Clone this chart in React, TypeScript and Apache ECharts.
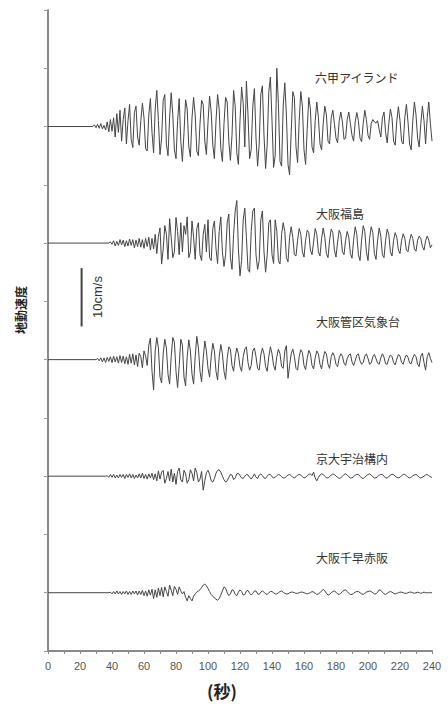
import React, { useEffect, useRef } from "react";
import * as echarts from "echarts";

// Station names (top to bottom)
const STATIONS = ["六甲アイランド", "大阪福島", "大阪管区気象台", "京大宇治構内", "大阪千早赤阪"];
// Baseline offset of each trace on the y axis (units: cm/s)
const BASELINES = [90, 70, 50, 30, 10];
// First sample time (s) of each trace; samples every 1 s
const STARTS = [28, 38, 30, 36, 38];

// Ground velocity samples (cm/s), one per second
const rokko = [
  0, 0.3, -0.2, 0.4, -0.3, 0.5, -0.4, 0.2, -0.6, 0.8,
  -0.9, 1.2, -0.8, 1.5, -1.8, 2.2, -1.0, 2.8, -2.5, 1.2,
  3.2, -3.0, 1.0, 3.8, -2.2, -3.6, 2.4, 3.5, -1.8, -3.2,
  1.0, 4.0, 1.5, -3.8, -4.2, 2.0, 4.8, -1.0, -4.5, 3.0,
  6.2, 1.0, -4.8, -2.0, 4.5, 5.5, -3.0, -5.0, 1.5, 5.8,
  2.0, -4.0, -5.5, 1.0, 4.8, -2.5, -6.0, -1.0, 4.6, 3.0,
  -3.5, -5.2, 1.5, 5.0, 2.0, -4.2, -5.0, 0.5, 4.5, 3.8,
  -2.5, -4.8, 0.8, 5.2, 2.5, -3.2, -5.5, 1.0, 5.5, 3.0,
  -3.8, -6.0, 0.5, 5.0, 4.2, -2.5, -5.8, -1.5, 6.2, 3.5,
  -4.5, -6.5, 1.0, 6.8, 4.0, -3.5, 7.8, 2.0, -5.5, -4.0,
  3.5, 6.5, -2.0, -6.8, -3.0, 5.5, 7.0, -1.5, -7.2, -3.0,
  6.0, 8.5, 1.0, -7.0, -5.0, 10.0, 4.0, -6.0, -6.8, 3.5,
  7.5, 2.0, -6.5, -8.3, -1.0, 6.0, 5.0, -3.5, -6.2, 1.0,
  6.0, 3.5, -4.0, -6.5, -0.5, 5.0, 3.0, -3.5, -4.5, 1.0,
  4.2, 1.5, -3.0, -4.0, 0.5, 3.5, 2.0, -2.5, -3.0, 1.5,
  2.8, 0.5, -2.0, -2.8, 1.0, 2.5, 0.8, -2.2, -2.0, 1.2,
  2.5, 0.5, -1.5, -2.5, 0.8, 2.4, 1.0, -2.0, -2.6, 0.5,
  2.8, 1.2, -1.5, -2.2, 0.5, 1.2, 0.8, 0.6, 1.0, -0.5,
  -1.8, 1.5, 2.5, -1.0, -2.8, 0.5, 3.0, 1.5, -2.5, -3.2,
  1.0, 3.4, 1.0, -2.5, -3.0, 1.5, 3.8, 0.8, -3.0, -4.0,
  1.0, 4.2, 2.0, -2.0, -3.5, 0.5, 3.5, 1.0, -3.0, 1.5,
  4.2, 0.5, -2.5,
];

const fukushima = [
  0, 0.2, -0.2, 0.4, -0.5, 0.3, -0.4, 0.6, -0.3, 0.5,
  -0.6, 0.4, -0.5, 0.7, -0.4, 0.6, -0.8, 0.5, -0.6, 0.8,
  -0.7, 0.6, -0.9, 0.8, -0.6, 1.0, -1.2, 0.8, -1.0, 1.5,
  -1.8, 1.2, 2.6, -3.6, -1.0, 3.0, 1.5, -2.8, 4.2, 1.0,
  -2.5, -1.5, 4.4, 2.0, -2.0, 3.5, -1.5, 3.0, 1.5, 4.5,
  -2.5, -1.5, 3.8, 1.0, -2.8, 2.5, 3.5, -2.0, -3.0, 1.5,
  3.2, -1.5, 4.0, -2.5, -3.0, 2.5, 3.8, -1.0, -3.5, 2.0,
  4.5, -1.5, -4.0, -2.0, 3.5, 5.0, -2.5, -4.5, 1.5, 5.5,
  7.3, -1.0, -5.6, -3.0, 4.0, 6.0, 1.0, -4.5, -5.0, 2.0,
  5.5, 6.0, -2.0, -4.5, -3.0, 4.0, 5.5, -1.5, -5.0, -2.0,
  3.5, 4.0, -2.0, -3.5, 4.0, 2.0, -3.0, -3.6, 1.5, 3.5,
  2.0, -2.5, -3.2, 1.0, 2.8, 1.0, -2.0, -2.2, 0.5, 2.5,
  1.5, -1.5, -2.4, 0.5, 2.2, 1.8, -1.2, -2.0, 0.2, 2.5,
  1.5, -1.5, -2.2, 0.8, 2.6, 1.0, -1.8, -2.5, 0.5, 2.4,
  1.8, -1.2, -2.4, 0.2, 2.2, 1.5, -1.5, -2.0, 0.5, 2.0,
  1.0, -1.8, -2.6, 0.5, 2.8, 1.5, -2.0, -3.0, 0.5, 3.0,
  2.0, -1.5, -3.0, 0.8, 2.8, 1.8, -1.8, -2.8, 0.5, 2.6,
  1.2, -2.0, -2.5, 0.5, 2.4, 1.5, -1.5, -2.2, 0.5, 1.8,
  1.0, -1.2, -1.8, 0.5, 1.6, 0.8, -1.2, -1.5, 0.4, 1.5,
  0.8, -1.0, -1.4, 0.5, 1.2, 0.8, -0.6, -1.2, 0.4, 1.2,
  0.5, -0.8, -0.3,
];

const kishodai = [
  0, 0.2, -0.2, 0.3, -0.4, 0.3, -0.5, 0.4, -0.3, 0.5,
  -0.5, 0.6, -0.4, 0.5, -0.6, 0.7, -0.5, 0.6, -0.7, 0.5,
  -0.8, 0.9, -0.6, 1.0, -0.9, 0.8, -1.2, 1.1, 0.5, -1.4,
  1.5, 0.6, -1.0, 2.5, 3.7, -2.0, -5.2, 1.5, 3.8, 2.0,
  -3.0, -4.0, 1.0, 3.5, 2.0, -2.5, -4.2, 0.5, 3.8, 3.0,
  -2.0, -4.8, -1.0, 3.5, 2.5, -3.0, -4.5, 0.5, 3.4, 1.5,
  -2.5, -4.2, 0.5, 4.0, 2.0, -2.0, -3.8, 0.2, 3.2, 1.5,
  -1.5, -3.0, 0.5, 2.8, 1.5, -2.0, -3.5, 0.5, 2.6, 1.0,
  -2.0, -3.4, 0.2, 2.2, 1.8, -1.0, -2.0, 0.5, 2.0, 1.0,
  -1.2, -2.0, 0.5, 1.8, 2.2, -0.5, -1.8, -1.0, 1.5, 2.0,
  0.5, -1.5, -1.8, 0.8, 2.0, 1.0, -1.2, -2.0, 0.5, 2.2,
  1.0, -1.0, -1.8, 0.5, 1.8, 1.0, -1.2, -1.5, 1.5, 2.4,
  -3.2, -1.0, 1.0, 1.8, 0.5, -1.5, -1.8, 0.5, 1.7, 1.2,
  -1.0, -1.7, 0.2, 1.6, 1.0, -1.0, -1.6, 0.3, 1.5, 1.0,
  -0.8, -1.6, 0.2, 1.4, 1.0, -0.8, -1.5, 0.5, 1.2, 0.6,
  -0.8, -1.2, 0.3, 1.0, 0.6, -0.6, -1.0, 0.2, 0.8, 1.0,
  -0.4, -1.0, -0.2, 0.8, 1.0, -0.2, -0.8, -0.5, 0.6, 1.0,
  0.2, -0.8, -0.6, 0.5, 0.9, 0.2, -0.6, -0.8, 0.3, 1.0,
  0.4, -0.7, -0.8, 0.2, 0.8, 0.5, -0.5, -0.9, 0.1, 0.9,
  0.6, -0.5, -0.8, 0.2, 0.8, 0.4, -0.6, -0.7, 0.3, 0.9,
  0.5, -0.8, -1.2, 0.6, 1.1, -0.5, -1.8, 0.5, 1.2, 0.2,
  -0.5,
];

const uji = [
  0, 0.1, -0.2, 0.3, -0.2, 0.3, -0.3, 0.2, -0.3, 0.3,
  -0.2, 0.3, -0.4, 0.3, -0.2, 0.4, -0.3, 0.3, -0.4, 0.2,
  -0.3, 0.4, -0.3, 0.5, -0.4, 0.3, -0.5, 0.4, -0.3, 0.5,
  -0.6, 0.4, -0.8, 0.9, -0.5, 0.7, 1.0, -1.2, -0.4, 0.8,
  -0.8, 1.2, -1.0, 0.5, -1.4, 0.8, 1.4, -0.6, -1.0, 1.0,
  0.4, -1.2, -0.6, 1.1, 0.5, -0.8, 1.4, 0.6, -1.0, -0.5,
  0.8, -2.4, -0.8, 0.6, 1.0, 0.3, -0.8, -1.0, -0.4, 0.5,
  1.0, 1.1, 0.7, 0.0, -0.6, -1.0, -0.8, -0.2, 0.3, 0.2,
  -0.6, -0.3, 0.4, 0.5, 0.1, -0.3, -0.4, 0.0, 0.3, 0.2,
  -0.2, -0.5, -0.1, 0.4, -0.2, -0.4, 0.2, 0.4, 0.1, -0.3,
  -0.4, 0.0, 0.3, 0.3, -0.1, -0.3, -0.2, 0.1, 0.3, 0.2,
  -0.1, -0.3, -0.3, 0.0, 0.2, 0.3, 0.1, -0.2, -0.3, -0.1,
  0.2, 0.3, 0.2, -0.1, -0.3, -0.2, 0.1, 0.3, 0.4, 0.1,
  0.7, -0.3, -0.8, -0.2, 0.2, 0.4, 0.3, 0.0, -0.3, -0.3,
  -0.1, 0.2, 0.4, 0.3, 0.0, -0.2, -0.4, -0.3, 0.0, 0.3,
  0.4, 0.2, -0.1, -0.3, -0.3, -0.1, 0.2, 0.3, 0.3, 0.0,
  -0.3, -0.4, -0.2, 0.1, 0.3, 0.4, 0.2, -0.1, -0.3, -0.3,
  -0.1, 0.2, 0.3, 0.3, 0.0, -0.3, -0.3, -0.1, 0.2, 0.3,
  0.3, 0.0, -0.2, -0.3, -0.2, 0.1, 0.3, 0.3, 0.1, -0.2,
  -0.3, -0.2, 0.1, 0.2, 0.3, 0.1, -0.2, -0.3, -0.2, 0.0,
  0.2, 0.3, 0.1, -0.1, -0.2,
];

const chihaya = [
  0, 0.1, -0.2, 0.2, -0.2, 0.3, -0.2, 0.2, -0.3, 0.2,
  -0.2, 0.3, -0.3, 0.2, -0.3, 0.3, -0.2, 0.3, -0.4, 0.3,
  -0.3, 0.4, -0.5, 0.3, -0.6, 0.5, -0.4, 0.6, -1.0, 0.5,
  -0.8, 0.8, -0.5, 0.9, -0.7, 1.0, 0.2, -0.6, 1.3, 0.4,
  -0.5, 1.1, 0.6, -0.3, 1.0, 0.3, -0.2, 0.2, -0.8, -1.4,
  -0.5, -1.0, -1.4, -0.6, -0.2, 0.1, 0.3, 0.5, 0.9, 1.3,
  1.5, 1.2, 0.7, 0.2, -0.3, -0.6, -0.9, -1.1, -1.3, -1.0,
  -0.4, 0.3, 1.0, 0.8, 0.0, -0.5, -0.2, 0.5, 0.4, -0.3,
  -0.5, 0.1, 0.5, 0.2, -0.4, -0.3, 0.3, 0.4, -0.1, -0.4,
  -0.1, 0.3, 0.3, -0.2, -0.3, 0.1, 0.3, 0.1, -0.2, -0.3,
  0.0, 0.2, 0.2, 0.0, -0.2, -0.2, 0.0, 0.2, 0.3, 0.1,
  -0.1, -0.2, -0.2, 0.0, 0.1, 0.1, 0.0, -0.1, -0.1, 0.0,
  0.1, 0.1, 0.0, -0.1, -0.2, -0.1, 0.0, 0.2, 0.1, -0.1,
  -0.3, -0.2, 0.0, 0.3, 0.6, 0.3, -0.1, -0.4, -0.3, 0.0,
  0.2, 0.3, 0.1, -0.2, -0.3, -0.1, 0.2, 0.4, 0.5, 0.2,
  -0.1, -0.3, -0.3, -0.1, 0.1, 0.2, 0.2, 0.0, -0.2, -0.3,
  -0.1, 0.1, 0.2, 0.3, 0.2, 0.0, -0.2, -0.2, 0.1, 0.5,
  0.4, 0.1, -0.2, -0.3, -0.1, 0.1, 0.2, 0.1, -0.1, -0.2,
  -0.1, 0.0, 0.1, 0.1, 0.0, -0.1, -0.1, 0.0, 0.1, 0.1,
  0.0, -0.1, 0.0, 0.1, 0.0, -0.1, 0.0, 0.1, 0.0, 0.0,
  0.0, 0.0, 0.0,
];

const TRACES = [rokko, fukushima, kishodai, uji, chihaya];

// Scale bar: 10 cm/s, placed at t = 21 s
const SCALE_BAR_T = 21;
const SCALE_BAR_Y = [55.7, 65.7];

const X_TICKS = [0, 20, 40, 60, 80, 100, 120, 140, 160, 180, 200, 220, 240];

const CJK = '"Noto Sans CJK JP", "Noto Sans", sans-serif';

export default function App() {
  const ref = useRef<HTMLDivElement>(null);

  useEffect(() => {
    if (!ref.current) return;
    const chart = echarts.init(ref.current, undefined, { renderer: "svg" });

    const traceSeries = TRACES.map((vals, k) => ({
      type: "line",
      name: STATIONS[k],
      silent: true,
      showSymbol: false,
      symbol: "none",
      lineStyle: { width: 1, color: "#444" },
      data: [[0, BASELINES[k]], ...vals.map((v, i) => [STARTS[k] + i, BASELINES[k] + v])],
      z: 3,
    }));

    const labelPos = [
      { x: 315, y: 77 },
      { x: 316, y: 213 },
      { x: 316, y: 321 },
      { x: 316, y: 458 },
      { x: 316, y: 557 },
    ];

    chart.setOption({
      animation: false,
      backgroundColor: "#ffffff",
      grid: { left: 48, right: 16, top: 10, bottom: 57, containLabel: false },
      xAxis: {
        type: "value",
        min: 0,
        max: 240,
        interval: 20,
        axisLine: { show: true, lineStyle: { color: "#8a8a8a", width: 2 } },
        axisTick: { show: true, length: 3, lineStyle: { color: "#8a8a8a" } },
        minorTick: { show: true, splitNumber: 2, length: 3, lineStyle: { color: "#8a8a8a" } },
        splitLine: { show: false },
        axisLabel: {
          color: "#555",
          fontSize: 11,
          margin: 9,
          fontFamily: "Arial, 'Liberation Sans', sans-serif",
          formatter: (v: number) => (X_TICKS.includes(v) ? String(v) : ""),
        },
      },
      yAxis: {
        type: "value",
        min: 0,
        max: 110,
        interval: 10,
        axisLine: { show: true, lineStyle: { color: "#8a8a8a", width: 2 } },
        axisTick: { show: true, length: 4, lineStyle: { color: "#9a9a9a" } },
        axisLabel: { show: false },
        splitLine: { show: false },
      },
      graphic: [
        ...STATIONS.map((s, k) => ({
          type: "text",
          x: labelPos[k].x,
          y: labelPos[k].y,
          silent: true,
          style: {
            text: s,
            fill: "#333",
            font: `12px ${CJK}`,
            textAlign: "left",
            textVerticalAlign: "middle",
          },
        })),
        {
          type: "text",
          x: 20,
          y: 310,
          rotation: Math.PI / 2,
          silent: true,
          style: {
            text: "地動速度",
            fill: "#222",
            font: `bold 12px ${CJK}`,
            textAlign: "center",
            textVerticalAlign: "middle",
          },
        },
        {
          type: "text",
          x: 97,
          y: 297,
          rotation: Math.PI / 2,
          silent: true,
          style: {
            text: "10cm/s",
            fill: "#333",
            font: "13px 'Liberation Sans', Arial, sans-serif",
            textAlign: "center",
            textVerticalAlign: "middle",
          },
        },
        {
          type: "text",
          x: 222,
          y: 690,
          silent: true,
          style: {
            text: "(秒)",
            fill: "#222",
            font: `bold 17px ${CJK}`,
            textAlign: "center",
            textVerticalAlign: "middle",
          },
        },
      ],
      series: [
        ...traceSeries,
        {
          type: "line",
          name: "scale",
          silent: true,
          showSymbol: false,
          symbol: "none",
          lineStyle: { width: 2, color: "#444" },
          data: SCALE_BAR_Y.map((y) => [SCALE_BAR_T, y]),
          z: 4,
        },
      ],
    });

    return () => chart.dispose();
  }, []);

  return (
    <div
      ref={ref}
      style={{ position: "fixed", left: 0, top: 0, width: 448, height: 708, background: "#fff" }}
    />
  );
}
